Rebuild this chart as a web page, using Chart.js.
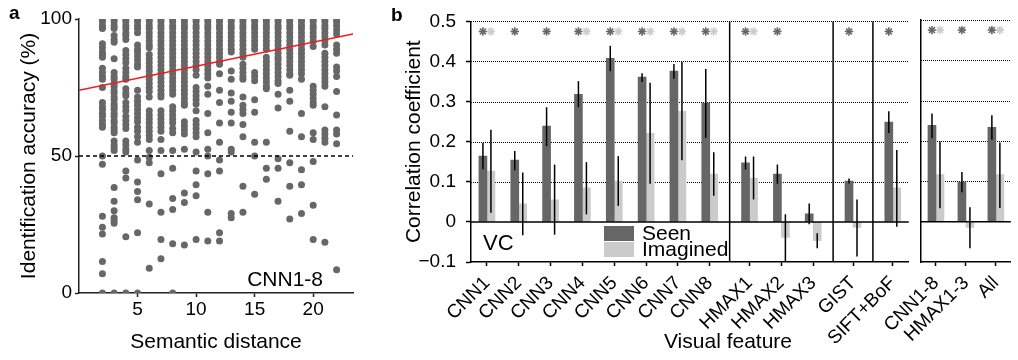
<!DOCTYPE html>
<html>
<head>
<meta charset="utf-8">
<script src="https://cdn.jsdelivr.net/npm/chart.js@4/dist/chart.umd.min.js"></script>
<style>
  html, body { margin: 0; padding: 0; background: #fff; }
  #wrap { position: relative; width: 1018px; height: 360px; overflow: hidden; font-family: "Liberation Sans", Arial, sans-serif; }
  canvas { position: absolute; top: 0; }
  .panel { position: absolute; font-weight: bold; font-size: 19px; line-height: 19px; }
</style>
</head>
<body>
<div id="wrap">
  <canvas id="panelA" width="370" height="360" style="left:0"></canvas>
  <canvas id="panelB" width="535" height="360" style="left:380px"></canvas>
  <canvas id="panelB2" width="178" height="360" style="left:840px"></canvas>
  <div class="panel" style="left:9px; top:3px">a</div>
  <div class="panel" style="left:391px; top:5px">b</div>
</div>
<script>
// ---------- panel a : identification accuracy vs semantic distance ----------
const distances = [2, 3, 4, 5, 6, 7, 8, 9, 10, 11, 12, 13, 14, 15, 16, 17, 18, 19, 20, 21, 22];
const accuracy = [
  [100, 99, 97.5, 96.5, 91, 89.5, 88, 87, 86, 82, 80.5, 79, 78, 75, 69.5, 68, 67, 65.5, 64.5, 63, 61.5, 60.5, 50, 47, 28, 24, 21.5, 11.5, 7, 0],
  [100, 99, 97.5, 96.5, 94, 92.5, 91.5, 85.5, 80.5, 79, 78, 76.5, 75.5, 74, 73, 71.5, 70.5, 69, 68, 67, 65.5, 64.5, 63, 62, 60.5, 59.5, 58.5, 55.5, 54, 53, 52, 38.5, 33.5, 30, 27.5, 26.5, 25.5, 0],
  [100, 99, 97.5, 96.5, 95, 94, 92.5, 88.5, 87, 85.5, 84, 82, 80.5, 79, 78, 74.5, 73, 72, 69.5, 68, 66.5, 64.5, 63, 61.5, 60, 55.5, 54, 52.5, 51.5, 44.5, 42, 20.5, 0],
  [100, 99, 97.5, 96.5, 95, 90.5, 89, 88, 86.5, 85, 83.5, 82.5, 74, 71.5, 70, 68.5, 67, 65.5, 64, 62.5, 60.5, 59, 57, 55, 48.5, 40.5, 37, 34, 22, 0],
  [100, 99, 97.5, 96.5, 95, 93.5, 92, 90.5, 89.5, 87, 85.5, 84, 82.5, 81, 79.5, 78, 76.5, 75, 73.5, 71.5, 66.5, 65, 63.5, 62, 60.5, 59, 57.5, 56, 52, 49.5, 47.5, 32.5, 9],
  [100, 99, 97.5, 96.5, 95, 93.5, 92, 90.5, 89, 87.5, 86, 84.5, 83, 81.5, 80, 78.5, 77, 75.5, 74, 72.5, 71.5, 66.5, 65, 63.5, 62, 60.5, 59, 56, 52, 43.5, 29.5, 19.5, 12.5],
  [100, 99, 97.5, 96.5, 95, 93.5, 92, 90.5, 89, 87.5, 86, 84.5, 83, 81.5, 80, 78.5, 77, 75.5, 74, 72.5, 68, 66.5, 65, 63.5, 62, 60, 58.5, 52, 45.5, 34.5, 30.5, 18, 0],
  [100, 99, 97.5, 96.5, 95, 93.5, 92, 90.5, 89, 87.5, 86, 84.5, 83, 81.5, 80, 78.5, 77, 75.5, 74, 72.5, 71, 69.5, 68.5, 62.5, 61, 59.5, 58, 52.5, 36.5, 33, 17.5],
  [100, 99, 97.5, 96.5, 95, 93.5, 92, 90.5, 89, 87.5, 86, 84.5, 83, 81.5, 79.5, 75, 73.5, 72, 70.5, 69, 66.5, 63, 61.5, 60, 58.5, 57, 51.5, 44.5, 39.5, 35.5, 19.5],
  [100, 99, 97.5, 96.5, 95, 93.5, 92, 90.5, 89, 87.5, 86, 84.5, 83, 81.5, 80, 78.5, 75.5, 72.5, 65.5, 58.5, 52.5, 50, 43.5, 29.5, 19],
  [100, 99, 97.5, 96.5, 95, 93.5, 92, 90.5, 89, 87.5, 86, 84.5, 83.5, 80, 74, 69.5, 62, 55, 48.5, 44.5, 22, 19],
  [100, 99, 97.5, 96.5, 95, 93.5, 92, 90.5, 89, 88, 81, 78, 73, 70, 66, 62, 52.5, 51.5, 29, 27.5],
  [100, 99, 97.5, 96.5, 95, 93.5, 92, 90.5, 89, 87.5, 86, 83.5, 82, 80.5, 79, 78, 71.5, 68.5, 67, 65.5, 61.5, 57, 39, 29.5],
  [100, 99, 97.5, 96.5, 95, 93.5, 92, 90.5, 89, 80.5, 79, 77.5, 70.5, 66, 55, 50, 36],
  [100, 99, 97.5, 96.5, 95, 93.5, 92, 90.5, 89, 86, 84.5, 83, 81.5, 80, 78.5, 77, 75.5, 74.5, 55, 45.5, 41.5],
  [100, 99, 97.5, 96.5, 95, 93.5, 92, 90.5, 89, 87.5, 86, 85, 83.5, 82, 80.5, 79, 77.5, 76.5, 72.5, 67.5, 49, 45.5, 33.5],
  [100, 99, 97.5, 96.5, 95, 93.5, 92, 90.5, 89, 87.5, 86, 84.5, 83, 81.5, 80, 79.5, 74, 70, 59, 47.5, 39, 27],
  [100, 99, 97.5, 96.5, 95, 93.5, 92, 90.5, 89, 87.5, 86, 84.5, 83, 81.5, 80, 78, 65.5, 57, 45, 39.5, 29],
  [100, 99, 97.5, 96.5, 95, 93.5, 92, 90, 75.5, 74, 72.5, 71, 69.5, 68.5, 58.5, 56, 48, 32, 19.5],
  [100, 99, 97.5, 96.5, 95, 93.5, 92, 90.5, 87.5, 86, 84.5, 83, 81.5, 80, 78.5, 77, 75.5, 68, 59.5, 58, 56.5, 55, 18.5],
  [100, 99, 97.5, 96, 94.5, 90.5, 89, 87.5, 82.5, 81, 79, 73.5, 65, 59.5, 58, 54.5, 8.5]
];
const fitLine = [{x: 0, y: 74}, {x: 23.4, y: 94.5}];
const chanceLine = [{x: 0, y: 50}, {x: 23.4, y: 50}];
const xTicksA = [5, 10, 15, 20];
const yTicksA = [0, 50, 100];

// ---------- panel b : correlation coefficients ----------
const featureNames = ['CNN1', 'CNN2', 'CNN3', 'CNN4', 'CNN5', 'CNN6', 'CNN7', 'CNN8', 'HMAX1', 'HMAX2', 'HMAX3', 'GIST', 'SIFT+BoF'];
const featureGroups = [8, 3, 1, 1];
const seenR   = [0.164, 0.154, 0.239, 0.318, 0.408, 0.361, 0.376, 0.296, 0.147, 0.119, 0.020, 0.102, 0.249];
const seenLo  = [0.131, 0.129, 0.189, 0.286, 0.376, 0.349, 0.357, 0.210, 0.131, 0.095, -0.006, 0.096, 0.222];
const seenHi  = [0.197, 0.177, 0.286, 0.351, 0.439, 0.371, 0.394, 0.381, 0.163, 0.143, 0.046, 0.108, 0.276];
const imagR   = [0.127, 0.045, 0.055, 0.085, 0.102, 0.221, 0.276, 0.119, 0.109, -0.039, -0.047, -0.014, 0.085];
const imagLo  = [0.023, -0.033, -0.032, 0.019, 0.040, 0.095, 0.154, 0.065, 0.056, -0.100, -0.066, -0.086, -0.012];
const imagHi  = [0.230, 0.123, 0.143, 0.149, 0.164, 0.347, 0.399, 0.174, 0.163, 0.019, -0.028, 0.056, 0.179];
const seenSig = [1, 1, 1, 1, 1, 1, 1, 1, 1, 1, 0, 1, 1];
const imagSig = [1, 0, 0, 1, 1, 1, 1, 1, 1, 0, 0, 0, 0];

const pooledNames = ['CNN1-8', 'HMAX1-3', 'All'];
const pooledSeenR  = [0.239, 0.098, 0.234];
const pooledSeenLo = [0.207, 0.073, 0.203];
const pooledSeenHi = [0.268, 0.123, 0.264];
const pooledImagR  = [0.117, -0.014, 0.117];
const pooledImagLo = [0.033, -0.066, 0.034];
const pooledImagHi = [0.199, 0.036, 0.196];
const pooledSeenSig = [1, 1, 1];
const pooledImagSig = [1, 0, 1];

const yTicksB = [-0.1, 0, 0.1, 0.2, 0.3, 0.4, 0.5];
const starLevel = 0.475;

const SEEN = '#666666';
const IMAG = '#cbcbcb';
const FONT = '"Liberation Sans", Arial, Helvetica, sans-serif';

Chart.defaults.font.family = FONT;
Chart.defaults.color = '#000';
Chart.defaults.animation = false;
Chart.defaults.plugins.legend.display = false;
Chart.defaults.plugins.tooltip.enabled = false;

// ---------- panel a ----------
const scatterPoints = [];
distances.forEach((d, i) => accuracy[i].forEach(v => scatterPoints.push({x: d, y: v})));

const panelALabel = {
  id: 'panelALabel',
  afterDraw(chart) {
    const ctx = chart.ctx;
    ctx.save();
    ctx.font = '21px ' + FONT;
    ctx.fillStyle = '#000';
    ctx.textAlign = 'right';
    ctx.textBaseline = 'alphabetic';
    ctx.fillText('CNN1-8', 323, 286);
    ctx.restore();
  }
};

new Chart(document.getElementById('panelA'), {
  type: 'scatter',
  data: {
    datasets: [
      {type: 'line', data: fitLine, borderColor: '#ee1c1c', borderWidth: 1.5, pointRadius: 0, showLine: true},
      {type: 'line', data: chanceLine, borderColor: '#000', borderWidth: 1.3, borderDash: [4, 3], pointRadius: 0, showLine: true},
      {data: scatterPoints, pointRadius: 3.5, backgroundColor: '#676767', borderWidth: 0}
    ]
  },
  options: {
    responsive: false,
    devicePixelRatio: 1,
    layout: {padding: {top: 19, right: 17, bottom: 0, left: 0}},
    scales: {
      x: {
        type: 'linear', min: 0, max: 23.4,
        afterBuildTicks: s => { s.ticks = xTicksA.map(v => ({value: v})); },
        afterFit: s => { s.height = 67; },
        grid: {drawOnChartArea: false, drawTicks: true, tickLength: 4, tickColor: '#222', tickWidth: 1.5},
        border: {display: true, color: '#222', width: 1.5},
        ticks: {font: {size: 19}, color: '#000', padding: 1, maxRotation: 0, autoSkip: false},
        title: {display: true, text: 'Semantic distance', font: {size: 21}, color: '#000', padding: {top: 0, bottom: 5}}
      },
      y: {
        min: 0, max: 100,
        afterBuildTicks: s => { s.ticks = yTicksA.map(v => ({value: v})); },
        afterFit: s => { s.width = 79; },
        grid: {drawOnChartArea: false, drawTicks: true, tickLength: 4, tickColor: '#222', tickWidth: 1.5},
        border: {display: true, color: '#222', width: 1.5},
        ticks: {font: {size: 19}, color: '#000', padding: 3},
        title: {display: true, text: 'Identification accuracy (%)', font: {size: 21}, color: '#000', padding: {top: 17, bottom: 0}}
      }
    }
  },
  plugins: [panelALabel]
});

// ---------- panel b ----------
// category positions: unit spacing inside a group, wider step between groups
const groupStep = 1.25;
const featurePos = [];
const separators = [];
let p = 0;
featureGroups.forEach((n, g) => {
  if (g > 0) { separators.push(p - 1 + groupStep / 2); p += groupStep - 1; }
  for (let k = 0; k < n; k++) { featurePos.push(p); p += 1; }
});
const pooledPos = pooledNames.map((_, i) => i);

function fmtR(v) {
  if (Math.abs(v) < 1e-9) return '0';
  return (v < 0 ? '\u2212' : '') + Math.abs(v).toFixed(1);
}

function drawStar(ctx, x, y, r) {
  for (let k = 0; k < 4; k++) {
    const a = k * Math.PI / 4;
    ctx.beginPath();
    ctx.moveTo(x - r * Math.cos(a), y - r * Math.sin(a));
    ctx.lineTo(x + r * Math.cos(a), y + r * Math.sin(a));
    ctx.stroke();
  }
}

const barDecor = {
  id: 'barDecor',
  beforeDatasetsDraw(chart) {
    // dotted horizontal grid at the positive ticks, behind the bars
    const {ctx, chartArea: a, scales: {y}} = chart;
    ctx.save();
    ctx.strokeStyle = '#000';
    ctx.lineWidth = 1;
    ctx.setLineDash([1, 1]);
    yTicksB.filter(v => v > 0).forEach(v => {
      const py = Math.round(y.getPixelForValue(v)) + 0.5;
      ctx.beginPath(); ctx.moveTo(a.left, py); ctx.lineTo(a.right, py); ctx.stroke();
    });
    ctx.restore();
  },
  afterDatasetsDraw(chart, args, opts) {
    const {ctx, chartArea: a, scales: {x, y}} = chart;
    ctx.save();
    // zero line
    const y0 = y.getPixelForValue(0);
    ctx.strokeStyle = '#000';
    ctx.lineWidth = 1.5;
    ctx.beginPath(); ctx.moveTo(a.left, y0); ctx.lineTo(a.right, y0); ctx.stroke();
    // group separators
    (opts.separators || []).forEach(v => {
      const px = x.getPixelForValue(v);
      ctx.beginPath(); ctx.moveTo(px, a.top); ctx.lineTo(px, a.bottom); ctx.stroke();
    });
    // error bars and significance marks
    chart.data.datasets.forEach((ds, i) => {
      const meta = chart.getDatasetMeta(i);
      meta.data.forEach((bar, j) => {
        ctx.strokeStyle = '#000';
        ctx.lineWidth = 1.5;
        ctx.beginPath();
        ctx.moveTo(bar.x, y.getPixelForValue(ds.errLo[j]));
        ctx.lineTo(bar.x, y.getPixelForValue(ds.errHi[j]));
        ctx.stroke();
        if (ds.sig[j]) {
          ctx.strokeStyle = ds.backgroundColor;
          ctx.lineWidth = 1.6;
          drawStar(ctx, bar.x, y.getPixelForValue(starLevel), 4.2);
        }
      });
    });
    ctx.restore();
  },
  afterDraw(chart, args, opts) {
    if (!opts.legend) return;
    const ctx = chart.ctx;
    ctx.save();
    ctx.fillStyle = '#000';
    ctx.textBaseline = 'alphabetic';
    ctx.font = '22px ' + FONT;
    ctx.textAlign = 'left';
    ctx.fillText('VC', 103, 250);
    ctx.fillStyle = SEEN;
    ctx.fillRect(224, 226, 30, 15);
    ctx.fillStyle = IMAG;
    ctx.fillRect(224, 242, 30, 15);
    ctx.fillStyle = '#000';
    ctx.font = '21px ' + FONT;
    ctx.fillText('Seen', 262, 239.5);
    ctx.fillText('Imagined', 262, 255.5);
    ctx.textAlign = 'center';
    ctx.fillText('Visual feature', 348, 348);
    ctx.restore();
  }
};

function barDatasets(pos, sr, slo, shi, ssig, ir, ilo, ihi, isig) {
  return [
    {label: 'Seen', data: pos.map((x, i) => ({x: x, y: sr[i]})), errLo: slo, errHi: shi, sig: ssig,
     backgroundColor: SEEN, borderWidth: 0, barThickness: 8},
    {label: 'Imagined', data: pos.map((x, i) => ({x: x, y: ir[i]})), errLo: ilo, errHi: ihi, sig: isig,
     backgroundColor: IMAG, borderWidth: 0, barThickness: 8}
  ];
}

function yScaleB(showTicks, width) {
  return {
    min: -0.1, max: 0.5,
    afterBuildTicks: s => { s.ticks = yTicksB.map(v => ({value: v})); },
    afterFit: s => { s.width = width; },
    grid: {
      drawOnChartArea: false,
      drawTicks: showTicks, tickLength: 5, tickColor: '#000', tickWidth: 1.5, tickBorderDash: []
    },
    border: {display: true, color: '#000', width: 1.5},
    ticks: {display: showTicks, font: {size: 19}, color: '#000', padding: 10, callback: v => fmtR(v)},
    title: {display: showTicks, text: 'Correlation coefficient', font: {size: 21}, color: '#000', padding: {top: 22, bottom: 0}}
  };
}

function xScaleB(pos, names) {
  return {
    type: 'linear', min: pos[0] - 0.5, max: pos[pos.length - 1] + 0.5, offset: false,
    afterBuildTicks: s => { s.ticks = pos.map(v => ({value: v})); },
    afterFit: s => { s.height = 98; },
    grid: {offset: false, drawOnChartArea: false, drawTicks: true, tickLength: 4, tickColor: '#000', tickWidth: 1.5},
    border: {display: true, color: '#000', width: 1.5},
    ticks: {autoSkip: false, minRotation: 45, maxRotation: 45, padding: 6, font: {size: 19}, color: '#000',
            callback: (v, i) => names[i]}
  };
}

new Chart(document.getElementById('panelB'), {
  type: 'bar',
  data: {datasets: barDatasets(featurePos, seenR, seenLo, seenHi, seenSig, imagR, imagLo, imagHi, imagSig)},
  options: {
    responsive: false,
    devicePixelRatio: 1,
    layout: {padding: {top: 20, right: 2, bottom: 0, left: 0}},
    scales: {x: xScaleB(featurePos, featureNames), y: yScaleB(true, 91)},
    plugins: {barDecor: {separators: separators, legend: true}}
  },
  plugins: [barDecor]
});

new Chart(document.getElementById('panelB2'), {
  type: 'bar',
  data: {datasets: barDatasets(pooledPos, pooledSeenR, pooledSeenLo, pooledSeenHi, pooledSeenSig,
                               pooledImagR, pooledImagLo, pooledImagHi, pooledImagSig)},
  options: {
    responsive: false,
    devicePixelRatio: 1,
    layout: {padding: {top: 20, right: 0, bottom: 0, left: 0}},
    scales: {x: xScaleB(pooledPos, pooledNames), y: yScaleB(false, 81)},
    plugins: {barDecor: {separators: [], legend: false}}
  },
  plugins: [barDecor]
});
</script>
</body>
</html>
